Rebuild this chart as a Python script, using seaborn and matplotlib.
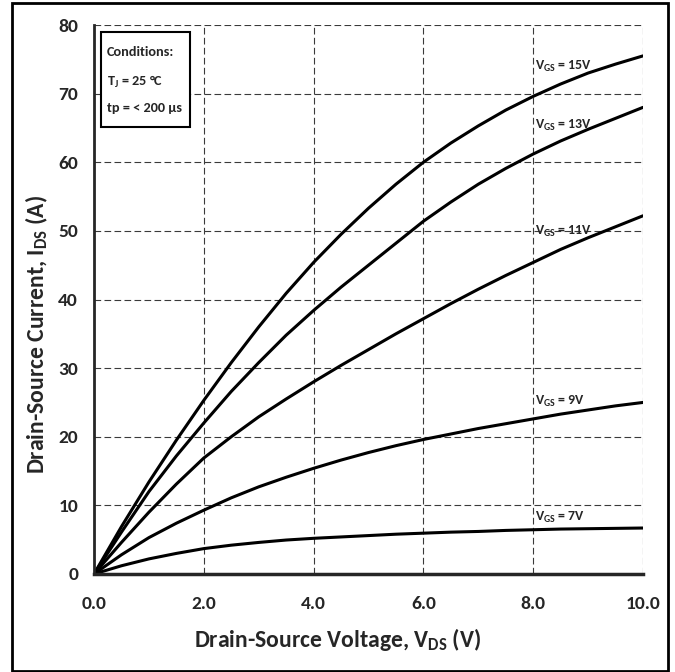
import numpy as np
import pandas as pd
import matplotlib
matplotlib.use("Agg")
import matplotlib.pyplot as plt
from matplotlib.patches import Rectangle
import seaborn as sns

# drain-source voltage points (V) and read-off currents (A) per gate voltage
vds = [0.0, 0.5, 1.0, 1.5, 2.0, 2.5, 3.0, 3.5, 4.0, 4.5, 5.0,
       5.5, 6.0, 6.5, 7.0, 7.5, 8.0, 8.5, 9.0, 9.5, 10.0]
ids_15v = [0.0, 6.9, 13.4, 19.5, 25.3, 30.8, 36.0, 40.9, 45.4, 49.5, 53.3,
           56.8, 60.0, 62.8, 65.3, 67.6, 69.6, 71.4, 73.0, 74.3, 75.5]
ids_13v = [0.0, 6.1, 12.0, 17.2, 22.0, 26.6, 30.8, 34.8, 38.4, 41.8, 45.0,
           48.2, 51.4, 54.2, 56.8, 59.1, 61.2, 63.1, 64.8, 66.4, 68.0]
ids_11v = [0.0, 4.6, 9.0, 13.1, 16.9, 20.0, 22.9, 25.5, 28.0, 30.4, 32.7,
           35.0, 37.2, 39.4, 41.5, 43.5, 45.4, 47.3, 49.0, 50.6, 52.2]
ids_9v = [0.0, 2.8, 5.3, 7.4, 9.3, 11.1, 12.7, 14.1, 15.4, 16.6, 17.7,
          18.7, 19.6, 20.4, 21.2, 21.9, 22.6, 23.3, 23.9, 24.5, 25.0]
ids_7v = [0.0, 1.2, 2.2, 3.0, 3.7, 4.2, 4.6, 4.95, 5.2, 5.4, 5.6,
          5.8, 5.95, 6.1, 6.2, 6.35, 6.45, 6.55, 6.6, 6.65, 6.7]

vgs_names = ["15V", "13V", "11V", "9V", "7V"]
# where the V_GS labels sit (x in V, y in A)
label_x = [8.03, 8.03, 8.03, 8.03, 8.03]
label_y = [74.0, 65.4, 49.9, 25.1, 8.2]

x_ticks = [0, 2, 4, 6, 8, 10]
x_tick_labels = ["0.0", "2.0", "4.0", "6.0", "8.0", "10.0"]
y_ticks = [0, 10, 20, 30, 40, 50, 60, 70, 80]

conditions = ["Conditions:", "T$_{J}$ = 25 °C", "tp = < 200 µs"]

sns.set_style("white")
plt.rcParams["font.family"] = ["Carlito", "DejaVu Sans"]
plt.rcParams["font.weight"] = "bold"
plt.rcParams["mathtext.fontset"] = "custom"
plt.rcParams["mathtext.rm"] = "Carlito:bold"
plt.rcParams["mathtext.bf"] = "Carlito:bold"
plt.rcParams["mathtext.default"] = "bf"

rows = []
for name, vals in zip(vgs_names, [ids_15v, ids_13v, ids_11v, ids_9v, ids_7v]):
    for v, i in zip(vds, vals):
        rows.append({"vds": v, "ids": i, "vgs": name})
df = pd.DataFrame(rows)

fig = plt.figure(figsize=(6.75, 6.72), dpi=100)
ax = fig.add_axes([94 / 675, 1 - 574 / 672, 549 / 675, 549 / 672])

sns.lineplot(data=df, x="vds", y="ids", hue="vgs", units="vgs", estimator=None,
             palette=["black"] * 5, linewidth=2.2, legend=False, ax=ax, zorder=3)

ax.set_xlim(0, 10)
ax.set_ylim(0, 80)
ax.set_xticks(x_ticks)
ax.set_xticklabels(x_tick_labels)
ax.set_yticks(y_ticks)
ax.tick_params(axis="both", direction="out", length=4.5, width=1.5, labelsize=14)
ax.tick_params(axis="x", pad=11)
ax.tick_params(axis="y", pad=7)

ax.grid(True, color="#3a3a3a", linestyle=(0, (6, 3)), linewidth=0.8)
for s in ["top", "right"]:
    ax.spines[s].set_visible(False)
ax.spines["left"].set_linewidth(2.0)
ax.spines["bottom"].set_linewidth(2.5)
ax.spines["left"].set_zorder(4)
ax.spines["bottom"].set_zorder(4)

ax.set_xlabel(r"Drain-Source Voltage, V$_{DS}$ (V)", fontsize=17, fontweight="bold")
ax.set_ylabel(r"Drain-Source Current, I$_{DS}$ (A)", fontsize=17, fontweight="bold")
ax.xaxis.label.set_va("center")
ax.yaxis.label.set_va("center")
ax.xaxis.set_label_coords(0.443, -0.120)
ax.yaxis.set_label_coords(-0.105, 0.437)

for name, lx, ly in zip(vgs_names, label_x, label_y):
    ax.text(lx, ly, r"V$_{GS}$ = " + name, fontsize=10, fontweight="bold",
            ha="left", va="center", zorder=5)

# conditions box
ax.add_patch(Rectangle((0.13, 65.2), 1.62, 13.8, facecolor="white", edgecolor="black",
                       linewidth=1.5, zorder=5))
for txt, ty in zip(conditions, [76.1, 71.7, 67.9]):
    ax.text(0.24, ty, txt, fontsize=10.3, fontweight="bold", ha="left", va="center", zorder=6)

fig.patches.append(Rectangle((12 / 675, 1 / 672), 656 / 675, 668 / 672, transform=fig.transFigure,
                             fill=False, edgecolor="black", linewidth=2.0))

fig.savefig("out.png", dpi=100)
